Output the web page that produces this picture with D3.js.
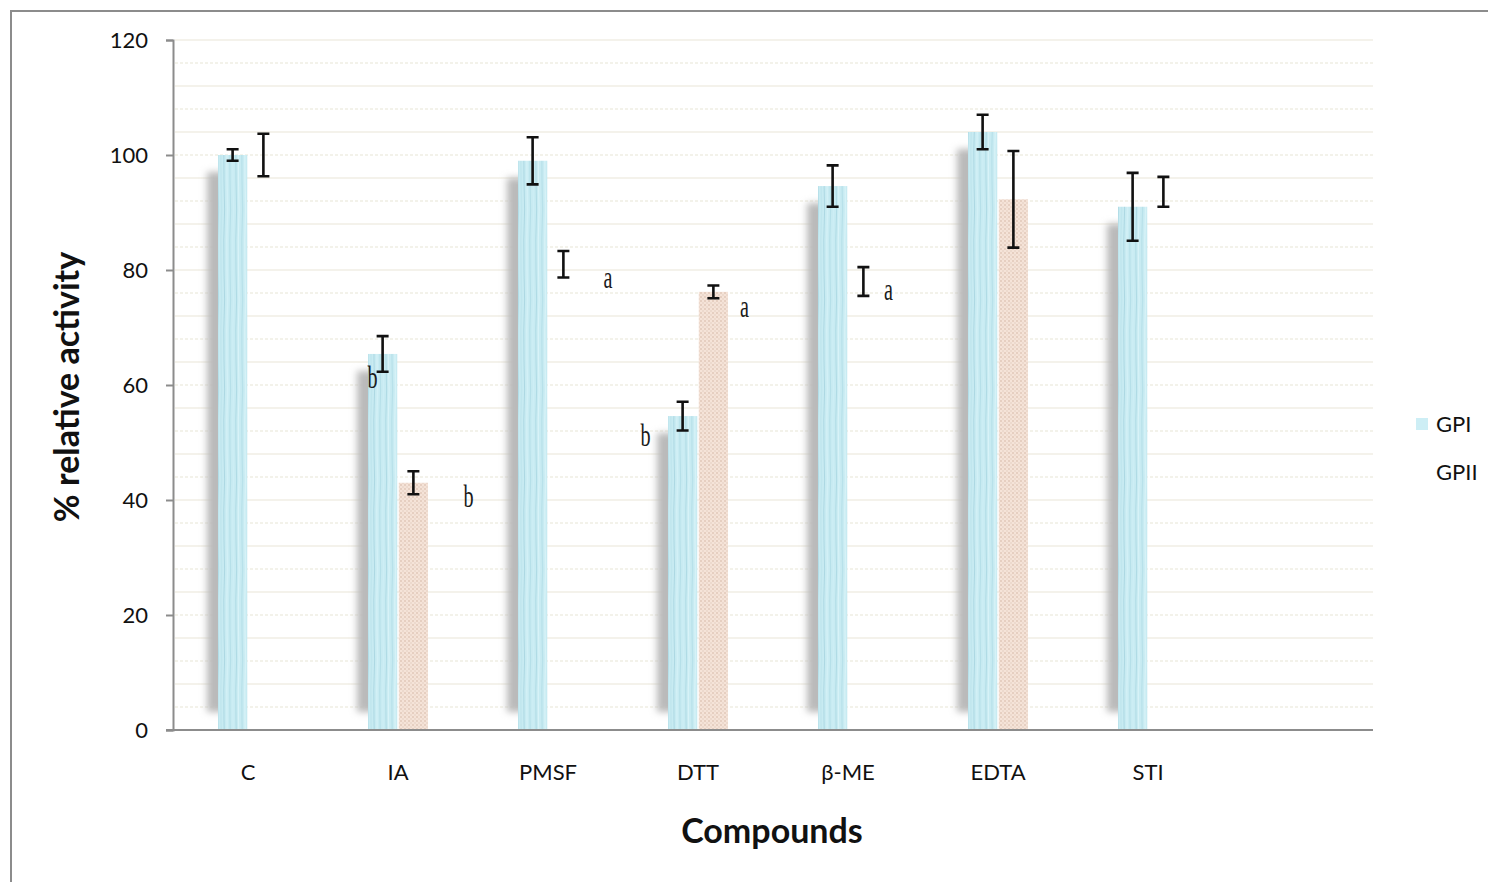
<!DOCTYPE html>
<html>
<head>
<meta charset="utf-8">
<script src="https://cdnjs.cloudflare.com/ajax/libs/d3/7.8.5/d3.min.js"></script>
<style>
  body { margin: 0; background: #fff; }
  svg { display: block; }
</style>
</head>
<body>
<main></main>
<script>
const width = 1488, height = 882;

// data
const categories = ["C", "IA", "PMSF", "DTT", "β-ME", "EDTA", "STI", ""];
const series = ["GPI", "GPII"];
const gpi = [100, 65.4, 99.0, 54.6, 94.6, 104.0, 91.0];
const gpiErr = [1.0, 3.1, 4.1, 2.5, 3.6, 3.0, 5.9];
const gpii = [100, 43.0, 81.0, 76.2, 78.0, 92.3, 93.6];
const gpiiErr = [3.7, 2.0, 2.3, 1.1, 2.5, 8.4, 2.6];
// only some of the GPII bars show a fill in the original
const gpiiFilled = [false, true, false, true, false, true, false];
const yTicks = [0, 20, 40, 60, 80, 100, 120];

// significance letters: category, value where it sits, label, shift in band fractions
const letters = [
  { cat: "IA", value: 61.3, text: "b", shift: -0.17 },
  { cat: "IA", value: 40.6, text: "b", shift: 0.47 },
  { cat: "PMSF", value: 78.8, text: "a", shift: 0.40 },
  { cat: "DTT", value: 73.8, text: "a", shift: 0.31 },
  { cat: "DTT", value: 51.3, text: "b", shift: -0.35 },
  { cat: "β-ME", value: 76.7, text: "a", shift: 0.27 }
];

const font = "Lato, 'Open Sans', sans-serif";
const margin = { left: 173, right: 115, top: 40, bottom: 152 };

const svg = d3.select("main").append("svg")
    .attr("width", width)
    .attr("height", height);

const defs = svg.append("defs");

// streaky blue fill
const pBlue = defs.append("pattern")
    .attr("id", "blue")
    .attr("patternUnits", "userSpaceOnUse")
    .attr("width", 30).attr("height", 90);
pBlue.append("rect").attr("width", 30).attr("height", 90).attr("fill", "#c8ebf2");
[[2, "#b8e1ea", 1.2], [5, "#d6f2f7", 1.5], [8, "#b2dde7", 1], [11, "#c0e6ee", 1.4], [14, "#a9d6e1", 0.9],
 [17, "#d2f0f6", 1.6], [20, "#b6e0e9", 1.1], [23, "#cdeef5", 1.3], [26, "#afdbe5", 1], [28.5, "#d8f3f8", 1.2]]
  .forEach(function (s) {
    pBlue.append("path")
        .attr("d", "M" + s[0] + ",0 l0.6,30 l-0.8,30 l0.2,30")
        .attr("stroke", s[1]).attr("stroke-width", s[2]).attr("fill", "none");
  });

// dotted peach fill
const pPeach = defs.append("pattern")
    .attr("id", "peach")
    .attr("patternUnits", "userSpaceOnUse")
    .attr("width", 4).attr("height", 4);
pPeach.append("rect").attr("width", 4).attr("height", 4).attr("fill", "#f5e3d8");
pPeach.append("rect").attr("width", 2).attr("height", 2).attr("fill", "#e6cfc1");
pPeach.append("rect").attr("x", 2).attr("y", 2).attr("width", 2).attr("height", 2).attr("fill", "#ecd9cd");

defs.append("filter").attr("id", "blur")
    .attr("x", "-50%").attr("y", "-10%").attr("width", "200%").attr("height", "120%")
  .append("feGaussianBlur").attr("stdDeviation", 3.5);

// outer frame
svg.append("path")
    .attr("d", "M11," + height + "V11H" + width)
    .attr("fill", "none")
    .attr("stroke", "#8c8c8c")
    .attr("stroke-width", 2);

const x = d3.scaleBand()
    .domain(categories)
    .range([margin.left, width - margin.right]);

const xs = d3.scaleBand()
    .domain(series)
    .range([x.bandwidth() / 2 - 30, x.bandwidth() / 2 + 30])
    .paddingInner(0.05);

const y = d3.scaleLinear()
    .domain([0, 120])
    .range([height - margin.bottom, margin.top]);

// faint grid every 4 units
const grid = svg.append("g");
grid.selectAll("line")
  .data(d3.range(4, 121, 4))
  .join("line")
    .attr("x1", margin.left + 2)
    .attr("x2", width - margin.right)
    .attr("y1", d => y(d))
    .attr("y2", d => y(d))
    .attr("stroke", "#f0eee4")
    .attr("stroke-width", 1.5)
    .attr("stroke-dasharray", (d, i) => i % 2 ? null : "3,2");

const rows = categories.slice(0, gpi.length).map(function (c, i) {
  return [
    { cat: c, s: "GPI", v: gpi[i], e: gpiErr[i], filled: true },
    { cat: c, s: "GPII", v: gpii[i], e: gpiiErr[i], filled: gpiiFilled[i] }
  ];
}).flat();

const bars = rows.filter(d => d.filled);

// soft shadows behind the GPI bars
svg.append("g").selectAll("rect")
  .data(bars.filter(d => d.s === "GPI"))
  .join("rect")
    .attr("x", d => x(d.cat) + xs(d.s) - 11)
    .attr("y", d => y(d.v) + 17)
    .attr("width", xs.bandwidth())
    .attr("height", d => y(0) - y(d.v) - 35)
    .attr("fill", "#bababa")
    .attr("filter", "url(#blur)");

svg.append("g").selectAll("rect")
  .data(bars)
  .join("rect")
    .attr("x", d => x(d.cat) + xs(d.s))
    .attr("y", d => y(d.v))
    .attr("width", xs.bandwidth())
    .attr("height", d => y(0) - y(d.v))
    .attr("fill", d => d.s === "GPI" ? "url(#blue)" : "url(#peach)");

// axes
svg.append("g")
    .attr("transform", "translate(0," + y(0) + ")")
    .call(d3.axisBottom(x).tickSize(0).tickPadding(34))
    .call(g => g.select(".domain").attr("stroke", "#8c8c8c").attr("stroke-width", 2)
        .attr("d", "M" + (margin.left - 7) + ",0H" + (width - margin.right)))
    .call(g => g.selectAll("text")
        .attr("font-family", font)
        .attr("font-size", 22)
        .attr("fill", "#111"));

svg.append("g")
    .attr("transform", "translate(" + margin.left + ",0)")
    .call(d3.axisLeft(y).tickValues(yTicks).tickSize(7).tickPadding(18))
    .call(g => g.select(".domain").attr("stroke", "#8c8c8c").attr("stroke-width", 2))
    .call(g => g.selectAll(".tick line").attr("stroke", "#8c8c8c").attr("stroke-width", 2))
    .call(g => g.selectAll("text")
        .attr("font-family", font)
        .attr("font-size", 22)
        .attr("fill", "#111"));

// error bars
const err = svg.append("g")
    .attr("stroke", "#111")
    .attr("stroke-width", 2.6)
    .attr("fill", "none");
err.selectAll("path")
  .data(rows)
  .join("path")
    .attr("d", function (d) {
      const cx = x(d.cat) + xs(d.s) + xs.bandwidth() / 2;
      const y1 = y(d.v + d.e), y2 = y(d.v - d.e);
      return "M" + (cx - 6) + "," + y1 + "H" + (cx + 6) +
             "M" + cx + "," + y1 + "V" + y2 +
             "M" + (cx - 6) + "," + y2 + "H" + (cx + 6);
    });

// letters
svg.append("g").selectAll("text")
  .data(letters)
  .join("text")
    .attr("transform", d => "translate(" + (x(d.cat) + x.bandwidth() / 2 + d.shift * x.bandwidth()) +
        "," + y(d.value) + ") scale(0.65,1)")
    .attr("text-anchor", "middle")
    .attr("dy", "0.35em")
    .attr("font-family", "'Liberation Serif', serif")
    .attr("font-size", 31)
    .attr("fill", "#1a1a1a")
    .text(d => d.text);

// axis titles
svg.append("text")
    .attr("transform", "translate(79," + (y(60) + 2) + ") rotate(-90)")
    .attr("text-anchor", "middle")
    .attr("font-family", font)
    .attr("font-weight", "bold")
    .attr("font-size", 34)
    .attr("fill", "#111")
    .text("% relative activity");

svg.append("text")
    .attr("x", 772)
    .attr("y", 843)
    .attr("text-anchor", "middle")
    .attr("font-family", font)
    .attr("font-weight", "bold")
    .attr("font-size", 34)
    .attr("fill", "#111")
    .text("Compounds");

// legend
const legend = svg.append("g").attr("transform", "translate(1416,418)");
legend.append("rect").attr("width", 12).attr("height", 12).attr("fill", "#cdeef5");
legend.selectAll("text")
  .data(series)
  .join("text")
    .attr("x", 20)
    .attr("y", (d, i) => 6 + i * 48)
    .attr("dy", "0.35em")
    .attr("font-family", font)
    .attr("font-size", 22)
    .attr("fill", "#111")
    .text(d => d);
</script>
</body>
</html>
